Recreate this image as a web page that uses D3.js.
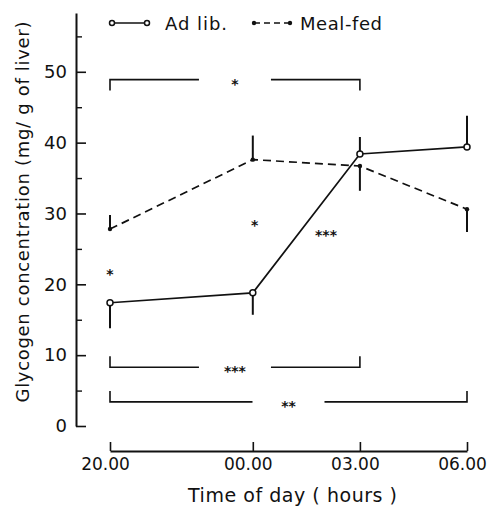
<!DOCTYPE html>
<html><head><meta charset="utf-8">
<script src="https://cdn.jsdelivr.net/npm/d3@7"></script>
<style>
body{margin:0;background:#fff}
svg{display:block}
text{font-family:"DejaVu Sans",sans-serif;fill:#111}
</style>
</head><body><svg id="chart" width="489" height="508"></svg>
<script>
// Sampling times (hours, 24 = midnight) and their labels
const times = [20, 24, 27, 30];
const timeLabels = ["20.00", "00.00", "03.00", "06.00"];

// Liver glycogen (mg/g) and the tip of each one-sided SE bar
const adLib = [17.4, 18.8, 38.4, 39.4];
const adLibErr = [13.8, 15.7, 40.8, 43.8];
const mealFed = [27.8, 37.6, 36.7, 30.6];
const mealFedErr = [29.8, 41.0, 33.2, 27.4];

const yTicks = [0, 10, 20, 30, 40, 50];
const yMinorTicks = [5, 15, 25, 35, 45, 55];

// Significance brackets between time points (level in mg/g)
const bracketFrom = [20, 20, 20];
const bracketTo = [27, 27, 30];
const bracketLevel = [48.9, 8.3, 3.4];
const bracketMark = ["*", "***", "**"];

// Significance marks between the two groups
const markTime = [20, 24.05, 26.05];
const markValue = [22, 29, 27.5];
const markText = ["*", "*", "***"];

const svg = d3.select("#chart");
const x = d3.scaleLinear().domain([20, 30]).range([110, 467]);
const y = d3.scaleLinear().domain([0, 58.3]).range([426, 13]);
const axisX = 76, axisY = 451;

// Y axis: major ticks with labels, minor ticks without
const yAxis = svg.append("g").attr("transform", `translate(${axisX},0)`)
  .call(d3.axisLeft(y).tickValues(yTicks).tickFormat(d3.format("d"))
    .tickSizeInner(-10).tickSizeOuter(0).tickPadding(9));
yAxis.select(".domain").attr("stroke", "#111").attr("stroke-width", 2);
yAxis.selectAll(".tick line").attr("stroke", "#111").attr("stroke-width", 1.6);
yAxis.selectAll(".tick text").attr("font-size", 18).attr("fill", "#111");
const yMinor = svg.append("g").attr("transform", `translate(${axisX},0)`)
  .call(d3.axisLeft(y).tickValues(yMinorTicks).tickFormat("").tickSizeInner(-6).tickSizeOuter(0));
yMinor.select(".domain").remove();
yMinor.selectAll(".tick line").attr("stroke", "#111").attr("stroke-width", 1.4);

// X axis with upward ticks
const xAxis = svg.append("g").attr("transform", `translate(0,${axisY})`)
  .call(d3.axisBottom(x).tickValues(times).tickFormat((d, i) => timeLabels[i])
    .tickSizeInner(-9).tickSizeOuter(0).tickPadding(7));
xAxis.select(".domain").attr("stroke", "#111").attr("stroke-width", 2);
xAxis.selectAll(".tick line").attr("stroke", "#111").attr("stroke-width", 1.6);
xAxis.selectAll(".tick text").attr("font-size", 17).attr("fill", "#111").attr("dx", -5);

// Axis titles
svg.append("text").attr("x", 292.5).attr("y", 502).attr("text-anchor", "middle")
  .attr("font-size", 19).attr("textLength", 209).attr("lengthAdjust", "spacing")
  .text("Time of day ( hours )");
svg.append("text").attr("transform", "translate(29,212) rotate(-90)").attr("text-anchor", "middle")
  .attr("font-size", 18).attr("textLength", 381).attr("lengthAdjust", "spacing")
  .text("Glycogen  concentration (mg/ g of liver)");

// Series
const line = d3.line().x(d => x(d.t)).y(d => y(d.v));
const adPts = times.map((t, i) => ({t, v: adLib[i], e: adLibErr[i]}));
const mfPts = times.map((t, i) => ({t, v: mealFed[i], e: mealFedErr[i]}));

const g = svg.append("g");
// error bars
g.selectAll(".errA").data(adPts).join("line")
  .attr("x1", d => x(d.t)).attr("x2", d => x(d.t))
  .attr("y1", d => y(d.v)).attr("y2", d => y(d.e))
  .attr("stroke", "#111").attr("stroke-width", 2);
g.selectAll(".errM").data(mfPts).join("line")
  .attr("x1", d => x(d.t)).attr("x2", d => x(d.t))
  .attr("y1", d => y(d.v)).attr("y2", d => y(d.e))
  .attr("stroke", "#111").attr("stroke-width", 2);

g.append("path").datum(mfPts).attr("d", line).attr("fill", "none")
  .attr("stroke", "#111").attr("stroke-width", 1.7).attr("stroke-dasharray", "8,5");
g.append("path").datum(adPts).attr("d", line).attr("fill", "none")
  .attr("stroke", "#111").attr("stroke-width", 1.7);

g.selectAll(".dotM").data(mfPts).join("circle")
  .attr("cx", d => x(d.t)).attr("cy", d => y(d.v)).attr("r", 2.2).attr("fill", "#111");
g.selectAll(".dotA").data(adPts).join("circle")
  .attr("cx", d => x(d.t)).attr("cy", d => y(d.v)).attr("r", 3)
  .attr("fill", "#fff").attr("stroke", "#111").attr("stroke-width", 1.5);

// Significance brackets
const gap = 36, tickLen = 11, midLevel = 25;
bracketLevel.forEach((lv, i) => {
  const x0 = x(bracketFrom[i]), x1 = x(bracketTo[i]), yy = y(lv);
  const xm = (x0 + x1) / 2;
  const dir = lv > midLevel ? 1 : -1;
  const b = svg.append("g").attr("fill", "none").attr("stroke", "#111").attr("stroke-width", 1.6);
  b.append("path").attr("d", `M${x0},${yy + dir * tickLen}V${yy}H${xm - gap}`);
  b.append("path").attr("d", `M${xm + gap},${yy}H${x1}V${yy + dir * tickLen}`);
  svg.append("text").attr("x", xm).attr("y", yy + 9).attr("text-anchor", "middle")
    .attr("font-size", 14).attr("font-weight", "bold").text(bracketMark[i]);
});

markText.forEach((m, i) => {
  svg.append("text").attr("x", x(markTime[i])).attr("y", y(markValue[i]) + 9)
    .attr("text-anchor", "middle").attr("font-size", 14).attr("font-weight", "bold").text(m);
});

// Legend
const lg = svg.append("g");
lg.append("line").attr("x1", 112).attr("x2", 147).attr("y1", 23).attr("y2", 23)
  .attr("stroke", "#111").attr("stroke-width", 1.7);
[112, 147].forEach(cx => lg.append("circle").attr("cx", cx).attr("cy", 23).attr("r", 2.5)
  .attr("fill", "#fff").attr("stroke", "#111").attr("stroke-width", 1.5));
lg.append("text").attr("x", 165).attr("y", 30).attr("font-size", 18)
  .attr("textLength", 62).attr("lengthAdjust", "spacing").text("Ad lib.");
lg.append("line").attr("x1", 254).attr("x2", 290).attr("y1", 23).attr("y2", 23)
  .attr("stroke", "#111").attr("stroke-width", 1.7).attr("stroke-dasharray", "6,4");
[254, 290].forEach(cx => lg.append("circle").attr("cx", cx).attr("cy", 23).attr("r", 2.2).attr("fill", "#111"));
lg.append("text").attr("x", 300).attr("y", 30).attr("font-size", 18)
  .attr("textLength", 82).attr("lengthAdjust", "spacing").text("Meal-fed");
</script>
</body></html>
